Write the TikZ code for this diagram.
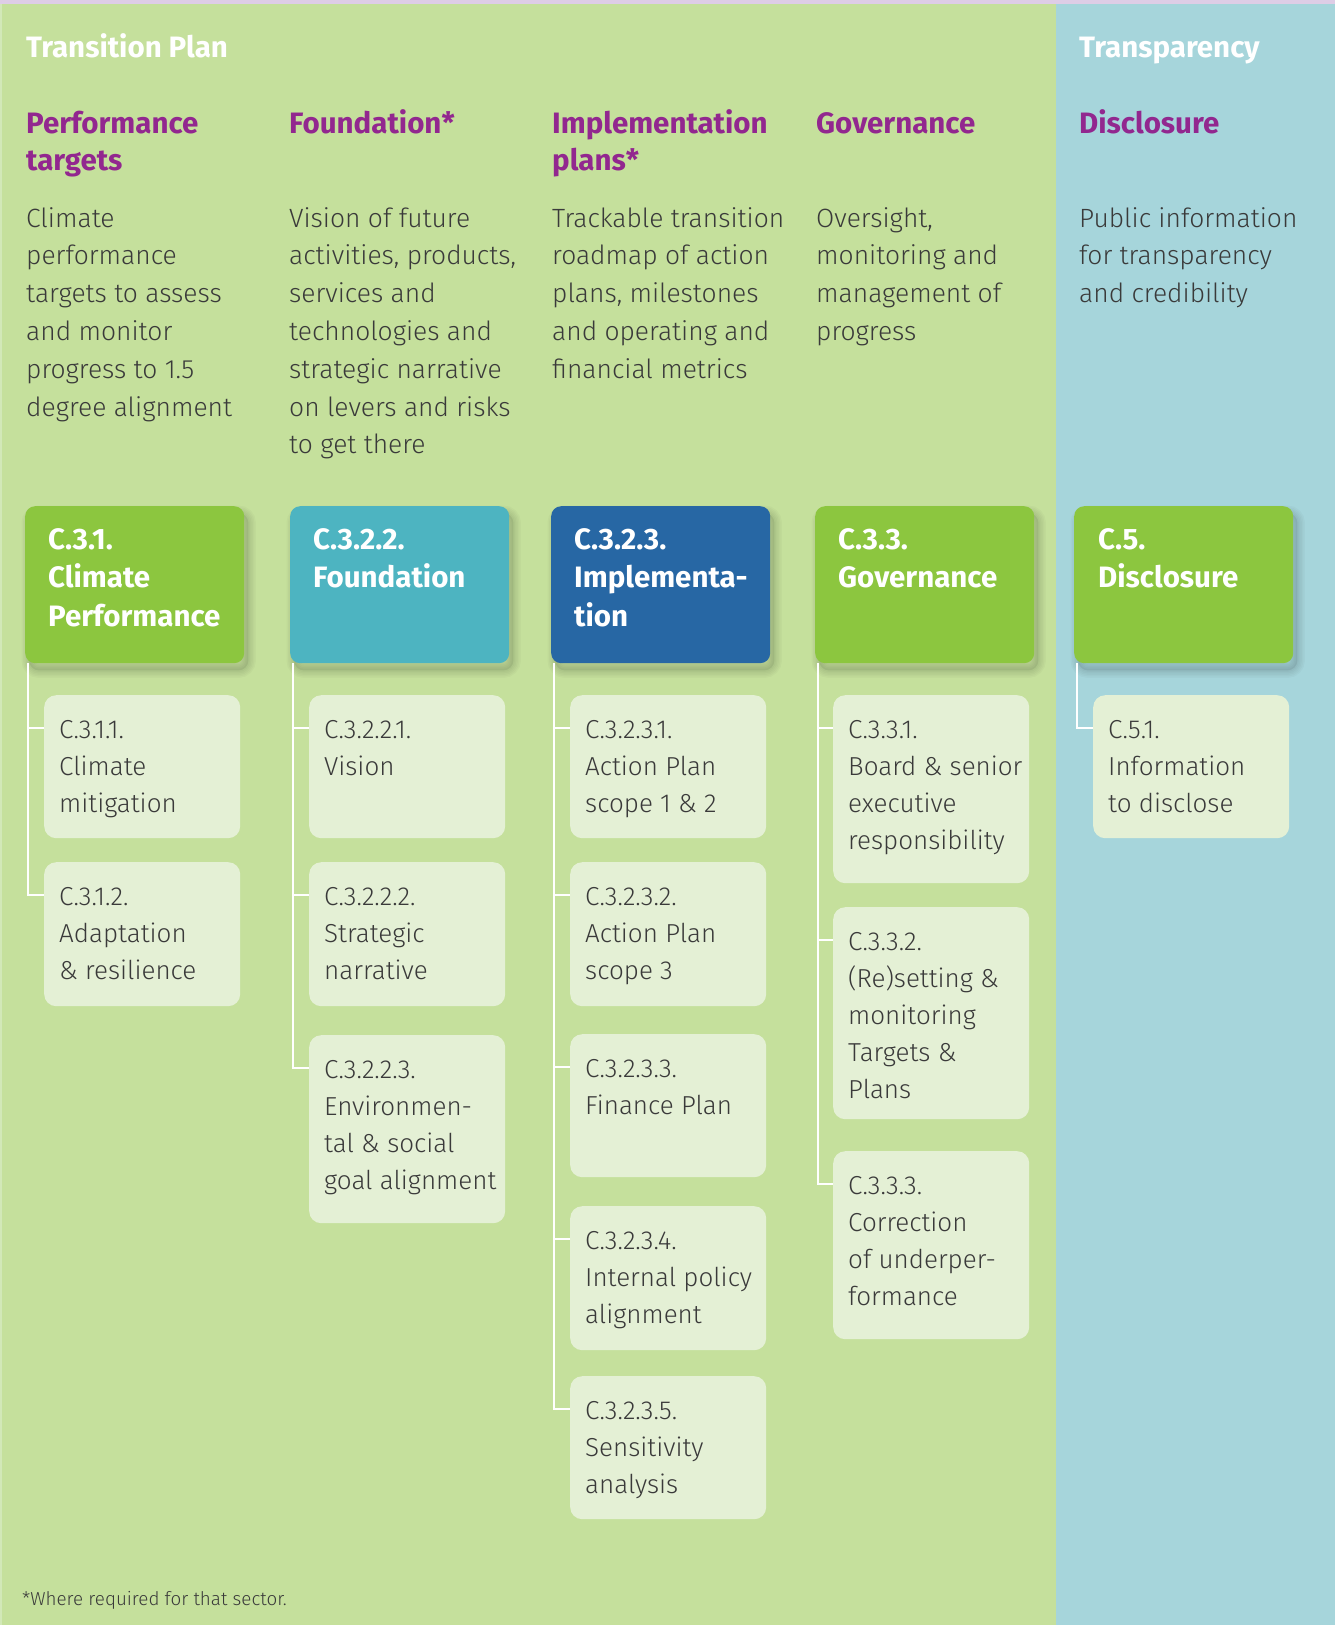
\documentclass[tikz,border=0pt]{standalone}
\usepackage{fontspec}
\setmainfont{Fira Sans}
\newfontfamily\lightf{Fira Sans Light}
\definecolor{bggreen}{HTML}{C5E09C}
\definecolor{bgblue}{HTML}{A6D5DB}
\definecolor{topstrip}{HTML}{DECDE6}
\definecolor{edgegreen}{HTML}{D2E8B8}
\definecolor{mgreen}{HTML}{8CC63F}
\definecolor{mteal}{HTML}{4DB4C1}
\definecolor{mblue}{HTML}{2767A4}
\definecolor{subfill}{HTML}{E4F0D5}
\definecolor{purp}{HTML}{92278F}
\definecolor{bodygray}{HTML}{3A3A3A}
\pgfdeclarelayer{bg}
\pgfdeclarelayer{conn}
\pgfsetlayers{bg,conn,main}
\begin{document}
\begin{tikzpicture}[x=1pt,y=-1pt,
  mainbox/.style={rectangle, rounded corners=10pt, minimum width=219pt, minimum height=157pt, anchor=north west, inner sep=0pt},
  subbox/.style={rectangle, rounded corners=12pt, fill=subfill, minimum width=196pt, minimum height=#1, anchor=north west, inner sep=0pt},
  boxtitle/.style={anchor=base west, inner sep=0pt, align=left, text=white, font=\fontsize{29.5}{38.5}\selectfont\bfseries},
  subtext/.style={anchor=base west, inner sep=0pt, align=left, text=bodygray, font=\lightf\fontsize{26}{37}\selectfont},
  bodytext/.style={anchor=base west, inner sep=0pt, align=left, text=bodygray, font=\lightf\fontsize{26.4}{37.8}\selectfont},
  headtext/.style={anchor=base west, inner sep=0pt, text=white, font=\fontsize{29.5}{37}\selectfont\bfseries},
  purptext/.style={anchor=base west, inner sep=0pt, align=left, text=purp, font=\fontsize{29.5}{37}\selectfont\bfseries},
  conn/.style={draw=white, line width=2pt},
  shadowc/.style={black, rounded corners=10pt}
]
\useasboundingbox (0,0) rectangle (1335,1625);
\begin{pgfonlayer}{bg}
  \fill[bggreen] (0,0) rectangle (1056,1625);
  \fill[bgblue] (1056,0) rectangle (1335,1625);
  \fill[edgegreen] (0,0) rectangle (2,1625);
  \fill[topstrip] (0,0) rectangle (1335,4);
\end{pgfonlayer}

% headings (anchors at the baseline of the last line)
\node[headtext] (h1) at (26,57) {Transition Plan};
\node[headtext] (h2) at (1079,57) {Transparency};

\node[purptext] (p1) at (26,170) {Performance\\targets};
\node[purptext] (p2) at (289,133) {Foundation*};
\node[purptext] (p3) at (552,170) {Implementation\\plans*};
\node[purptext] (p4) at (816,133) {Governance};
\node[purptext] (p5) at (1079,133) {Disclosure};

\node[bodytext] (b1) at (26,416) {Climate\\performance\\targets to assess\\and monitor\\progress to 1.5\\degree alignment};
\node[bodytext] (b2) at (289,453.8) {Vision of future\\activities, products,\\services and\\technologies and\\strategic narrative\\on levers and risks\\to get there};
\node[bodytext] (b3) at (552,378.2) {Trackable transition\\roadmap of action\\plans, milestones\\and operating and\\financial metrics};
\node[bodytext] (b4) at (816,340.4) {Oversight,\\monitoring and\\management of\\progress};
\node[bodytext] (b5) at (1079,302.6) {Public information\\for transparency\\and credibility};

% main boxes
\node[mainbox, fill=mgreen] (m1) at (25,506) {};
\node[mainbox, fill=mteal] (m2) at (290,506) {};
\node[mainbox, fill=mblue] (m3) at (551,506) {};
\node[mainbox, fill=mgreen] (m4) at (815,506) {};
\node[mainbox, fill=mgreen] (m5) at (1074,506) {};

\node[boxtitle] (m1t) at (48,626) {C.3.1.\\Climate\\Performance};
\node[boxtitle] (m2t) at (313,587.5) {C.3.2.2.\\Foundation};
\node[boxtitle] (m3t) at (574,626) {C.3.2.3.\\Implementa-\\tion};
\node[boxtitle] (m4t) at (838,587.5) {C.3.3.\\Governance};
\node[boxtitle] (m5t) at (1098,587.5) {C.5.\\Disclosure};

% shadows
\begin{pgfonlayer}{bg}
  \foreach \n in {m1,m2,m3,m4,m5}{
    \foreach \w in {3,6,9,12,15}{
      \draw[shadowc, opacity=0.025, line width=\w pt] ([shift={(4pt,-7pt)}]\n.north west) rectangle ([shift={(4pt,-7pt)}]\n.south east);
    }
    \fill[shadowc, opacity=0.07] ([shift={(4pt,-7pt)}]\n.north west) rectangle ([shift={(4pt,-7pt)}]\n.south east);
  }
\end{pgfonlayer}

% column 1
\node[subbox=143pt] (s11) at (44,695) {};
\node[subtext] (s11t) at (59,812) {C.3.1.1.\\Climate\\mitigation};
\node[subbox=144pt] (s12) at (44,862) {};
\node[subtext] (s12t) at (59,979) {C.3.1.2.\\Adaptation\\\& resilience};

% column 2
\node[subbox=143pt] (s21) at (309,695) {};
\node[subtext] (s21t) at (324,775) {C.3.2.2.1.\\Vision};
\node[subbox=144pt] (s22) at (309,862) {};
\node[subtext] (s22t) at (324,979) {C.3.2.2.2.\\Strategic\\narrative};
\node[subbox=188pt] (s23) at (309,1035) {};
\node[subtext] (s23t) at (324,1189) {C.3.2.2.3.\\Environmen-\\tal \& social\\goal alignment};

% column 3
\node[subbox=143pt] (s31) at (570,695) {};
\node[subtext] (s31t) at (585,812) {C.3.2.3.1.\\Action Plan\\scope 1 \& 2};
\node[subbox=144pt] (s32) at (570,862) {};
\node[subtext] (s32t) at (585,979) {C.3.2.3.2.\\Action Plan\\scope 3};
\node[subbox=143pt] (s33) at (570,1034) {};
\node[subtext] (s33t) at (585,1114) {C.3.2.3.3.\\Finance Plan};
\node[subbox=144pt] (s34) at (570,1206) {};
\node[subtext] (s34t) at (585,1323) {C.3.2.3.4.\\Internal policy\\alignment};
\node[subbox=143pt] (s35) at (570,1376) {};
\node[subtext] (s35t) at (585,1493) {C.3.2.3.5.\\Sensitivity\\analysis};

% column 4
\node[subbox=188pt] (s41) at (833,695) {};
\node[subtext] (s41t) at (848,849) {C.3.3.1.\\Board \& senior\\executive\\responsibility};
\node[subbox=212pt] (s42) at (833,907) {};
\node[subtext] (s42t) at (848,1098) {C.3.3.2.\\(Re)setting \&\\monitoring\\Targets \&\\Plans};
\node[subbox=188pt] (s43) at (833,1151) {};
\node[subtext] (s43t) at (848,1305) {C.3.3.3.\\Correction\\of underper-\\formance};

% column 5
\node[subbox=143pt] (s51) at (1093,695) {};
\node[subtext] (s51t) at (1108,812) {C.5.1.\\Information\\to disclose};

% connectors
\begin{pgfonlayer}{conn}
  \foreach \m/\s in {m1/s11,m1/s12,m2/s21,m2/s22,m2/s23,m3/s31,m3/s32,m3/s33,m3/s34,m3/s35,m4/s41,m4/s42,m4/s43,m5/s51}{
    \draw[conn] ([yshift=-33pt]\s.north west) -| ([xshift=3pt]\m.south west);
  }
\end{pgfonlayer}

% footnote
\node[anchor=base west, inner sep=0pt, text=bodygray, font=\lightf\fontsize{18.8}{22}\selectfont] (fn) at (22,1605) {*Where required for that sector.};
\end{tikzpicture}
\end{document}
